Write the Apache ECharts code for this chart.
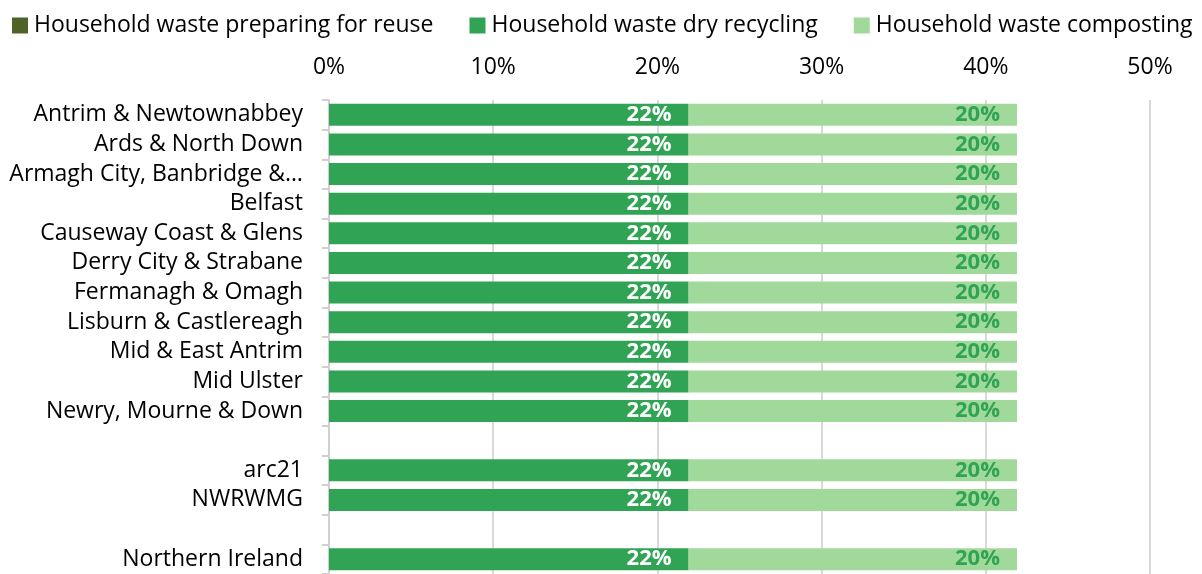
<!DOCTYPE html>
<html>
<head>
<meta charset="utf-8">
<script src="https://cdn.jsdelivr.net/npm/echarts@6/dist/echarts.min.js"></script>
<style>html,body{margin:0;padding:0;background:#fff;}#c{width:1202px;height:574px;}</style>
</head>
<body>
<div id="c"></div>
<script>
var categories = ['Antrim & Newtownabbey','Ards & North Down','Armagh City, Banbridge &\u2026','Belfast','Causeway Coast & Glens','Derry City & Strabane','Fermanagh & Omagh','Lisburn & Castlereagh','Mid & East Antrim','Mid Ulster','Newry, Mourne & Down',' ','arc21','NWRWMG','  ','Northern Ireland'];
var reuseValues = [0,0,0,0,0,0,0,0,0,0,0,null,0,0,null,0];
var dryValues = [21.9,21.9,21.9,21.9,21.9,21.9,21.9,21.9,21.9,21.9,21.9,null,21.9,21.9,null,21.9];
var compostValues = [20.0,20.0,20.0,20.0,20.0,20.0,20.0,20.0,20.0,20.0,20.0,null,20.0,20.0,null,20.0];
var seriesNames = ['Household waste preparing for reuse','Household waste dry recycling','Household waste composting'];
var xTicks = {min:0, max:50, interval:10};

var FONT = 'Open Sans';
var chart = echarts.init(document.getElementById('c'));
function lbl(color){
  return {show:true, position:'insideRight', distance:17, color:color, fontFamily:FONT, fontWeight:'bold', fontSize:22,
    formatter:function(p){return p.value==null||p.value===0?'':Math.round(p.value)+'%';}};
}
chart.setOption({
  animation:false,
  textStyle:{fontFamily:FONT},
  legend:{top:9, left:7, itemWidth:16, itemHeight:16, itemGap:36, icon:'rect',
    textStyle:{fontFamily:FONT, fontSize:23, color:'#000', padding:[0,0,0,1]}, data:seriesNames},
  grid:{left:329, top:100, width:821, height:480, containLabel:false},
  xAxis:{type:'value', position:'top', min:xTicks.min, max:xTicks.max, interval:xTicks.interval,
    axisLine:{show:false}, axisTick:{show:false},
    axisLabel:{formatter:'{value}%', fontFamily:FONT, fontSize:23, color:'#000', margin:21},
    splitLine:{lineStyle:{color:'#d9d9d9', width:2}}},
  yAxis:{type:'category', inverse:true, data:categories,
    axisLine:{lineStyle:{color:'#d0d0d0', width:2}},
    axisTick:{show:true, length:7, interval:0, lineStyle:{color:'#d0d0d0', width:2}},
    axisLabel:{interval:0, fontFamily:FONT, fontSize:23, color:'#000', margin:26}},
  series:[
    {name:seriesNames[0], type:'bar', stack:'s', data:reuseValues, barWidth:22, itemStyle:{color:'#4f6228'}},
    {name:seriesNames[1], type:'bar', stack:'s', data:dryValues, barWidth:22, itemStyle:{color:'#31a354'}, label:lbl('#ffffff')},
    {name:seriesNames[2], type:'bar', stack:'s', data:compostValues, barWidth:22, itemStyle:{color:'#a1d99b'}, label:lbl('#31a354')}
  ]
});
</script>
</body>
</html>
